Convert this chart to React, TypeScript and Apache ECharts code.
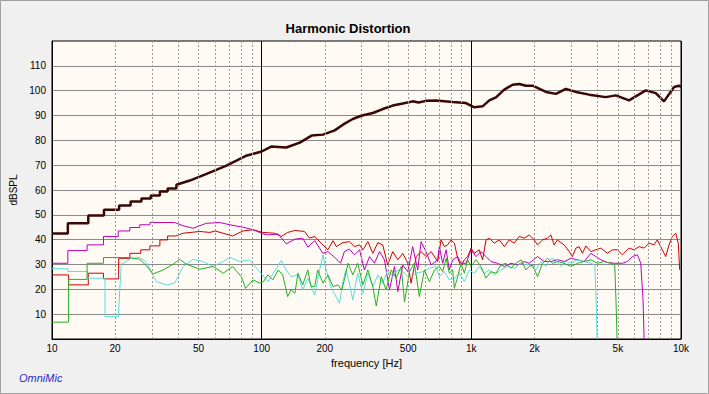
import React, { useEffect, useRef } from 'react';
import * as echarts from 'echarts';

// [frequency Hz, dBSPL]
const fundamental: [number, number][] = [
  [10, 42.5], [11.9, 42.5], [11.9, 46.6], [14.9, 46.6], [14.9, 49.7], [17.7, 49.7], [17.7, 52], [20.9, 52],
  [20.9, 53.8], [23.7, 53.8], [23.7, 55.4], [26.7, 55.4], [26.7, 56.6], [29.6, 56.6], [29.6, 57.8], [32.7, 57.8],
  [32.7, 59.4], [35.6, 59.4], [35.6, 60.6], [39.2, 60.6], [39.2, 62.1], [45.4, 63.8], [50.7, 65.4], [58.4, 67.5],
  [67.9, 69.8], [75.8, 71.8], [84.5, 73.8], [100, 75.5], [111, 77.5], [131, 77.1], [152, 79.1], [173, 81.9],
  [196, 82.3], [223, 84], [244, 86.3], [272, 88.6], [298, 89.9], [339, 91], [378, 92.6], [422, 94], [471, 94.8],
  [525, 95.7], [560, 95.2], [608, 95.9], [679, 96], [815, 95.4], [943, 95], [1033, 93.3], [1132, 93.7],
  [1218, 96.1], [1311, 97.3], [1436, 100.4], [1574, 102.4], [1693, 102.7], [1822, 102], [1960, 102],
  [2270, 99.5], [2532, 98.7], [2825, 100.7], [3152, 99.5], [3648, 98.4], [4377, 97.4], [4886, 98.1],
  [5653, 96.1], [6792, 100.1], [7580, 99], [8298, 95.7], [9268, 101.5], [9772, 102], [10000, 101.5],
];

const harmonicRed: [number, number][] = [
  [10, 25.8], [12, 25.8], [12, 21.8], [14.9, 21.8], [14.9, 26.5], [17.6, 26.5], [17.6, 24.2], [20.8, 24.2],
  [20.8, 32.5], [23.5, 32.5], [23.5, 34.5], [26.5, 34.5], [26.5, 35.9], [29.3, 35.9], [29.3, 37.5], [32.7, 37.5],
  [32.7, 39.9], [35.6, 39.9], [35.6, 41.5], [39, 41.5], [42.2, 42.6], [50.7, 43.3], [56.6, 42.9], [60, 43.5],
  [72.6, 41.5], [81.5, 43.5], [91, 44], [101.6, 42.9], [115, 42.6], [124, 41.3], [133, 42.9], [144, 43.7],
  [160, 43.3], [169, 40.6], [179, 41.3], [192, 38.6], [207, 35.9], [219, 39.6], [227, 37.2], [244, 38.8],
  [262, 39.2], [277, 37.2], [293, 37.9], [304, 35.9], [321, 39.2], [339, 34.5], [358, 38.8], [378, 37.9],
  [399, 29.8], [422, 35.2], [446, 31.9], [471, 34.5], [498, 30.5], [516, 22.5], [546, 33.2], [576, 35.2],
  [608, 33.2], [643, 35.2], [691, 31.2], [717, 39.9], [744, 37.2], [771, 37.9], [800, 39.9], [830, 38.6],
  [861, 32.5], [893, 29.2], [926, 31.9], [960, 33.2], [997, 36.6], [1033, 34.5], [1091, 35.9], [1132, 31.9],
  [1175, 39.9], [1218, 40.6], [1287, 38.6], [1360, 39.9], [1436, 37.2], [1517, 39.9], [1602, 38.6],
  [1693, 41.3], [1786, 40.6], [1888, 41.9], [1995, 39.9], [2069, 37.9], [2186, 39.9], [2308, 40.6],
  [2396, 41.9], [2483, 37.9], [2576, 39.9], [2673, 38.8], [2773, 37.9], [2929, 35.2], [3034, 33.2],
  [3152, 36.6], [3266, 37.2], [3388, 34.5], [3516, 37.5], [3715, 35.2], [3924, 35.9], [4146, 36.6],
  [4457, 34.5], [4707, 35.9], [4975, 35.9], [5255, 33.9], [5653, 36.6], [5970, 35.9], [6310, 37.2],
  [6668, 36.6], [7040, 38.6], [7436, 37.9], [7706, 39.9], [8147, 35.9], [8453, 33.2], [8770, 37.9],
  [9092, 41.3], [9437, 42.6], [9705, 38.6], [9857, 27.8],
];

const harmonicMagenta: [number, number][] = [
  [10, 30.5], [11.9, 30.5], [11.9, 35.6], [14.7, 35.6], [14.7, 37.9], [17.6, 37.9], [17.6, 41.3], [20.7, 41.3],
  [20.7, 43.5], [23.5, 43.5], [23.5, 44.9], [26.2, 44.9], [26.2, 46], [29.3, 46], [29.3, 46.9], [38.5, 46.9],
  [42.2, 45.6], [47.1, 44.6], [54.5, 46.6], [63.1, 46.9], [70.5, 46], [81.5, 45], [91, 44], [101.6, 42.3],
  [107, 41.9], [120, 42.3], [131, 38.3], [144, 40.2], [157, 40.6], [166, 37], [179, 39.6], [196, 34.5],
  [207, 35.2], [223, 32.9], [238, 30.5], [248, 35.2], [262, 36.2], [277, 33.9], [293, 35.9], [309, 27.8],
  [327, 33.2], [345, 30.5], [365, 35.2], [385, 31.9], [407, 19.8], [430, 29.2], [446, 19.1], [471, 29.8],
  [498, 27.1], [525, 37.2], [555, 27.8], [576, 39.2], [608, 35.2], [643, 29.8], [691, 31.9], [704, 37.2],
  [730, 30.5], [758, 35.9], [785, 27.8], [815, 31.9], [861, 33.2], [893, 30.5], [943, 30.5], [997, 35.9],
  [1052, 33.2], [1112, 35.2], [1175, 33.2], [1241, 31.2], [1334, 30.5], [1436, 29.2], [1545, 30.5],
  [1662, 29.8], [1786, 31.2], [1888, 30.5], [2069, 33.2], [2227, 31.2], [2396, 31.2], [2576, 31.9],
  [2773, 31.2], [2985, 32.5], [3208, 31.9], [3451, 31.2], [3715, 34.5], [3924, 33.2], [4146, 31.9],
  [4457, 30.8], [4797, 30.5], [5255, 30.5], [5546, 31.2], [5861, 33.2], [6194, 33.9], [6427, 30.5],
  [6592, 15.7], [6668, 0],
];

const harmonicGreen: [number, number][] = [
  [10, 6.8], [12, 6.8], [12, 24], [14.7, 24], [14.7, 30.5], [17.6, 30.5], [17.6, 32.8], [23.5, 32.8],
  [26.2, 32.1], [28.3, 29.4], [30.4, 26.2], [33.9, 27.8], [37.8, 30.1], [40.6, 32.1], [43.8, 30.1],
  [50.7, 28.1], [58.6, 29.2], [65.6, 26.5], [72.6, 29.2], [80, 25.1], [83.8, 20.4], [91, 23.8], [97.9, 22.5],
  [102, 23.1], [107, 25.8], [113, 23.8], [120, 27.8], [126, 25.8], [133, 17.1], [138, 19.8], [144, 18.4],
  [149, 26.5], [157, 21.8], [166, 27.8], [172, 21.1], [179, 21.1], [185, 27.8], [196, 22.5], [207, 25.8],
  [219, 21.1], [231, 21.8], [241, 19.8], [248, 23.8], [258, 30.5], [272, 25.8], [287, 30.5], [304, 21.8],
  [321, 27.8], [339, 21.1], [352, 13.3], [372, 25.1], [392, 19.8], [415, 27.8], [438, 24.5], [463, 29.2],
  [480, 15], [507, 27.1], [535, 30.5], [565, 17.1], [597, 27.8], [631, 23.1], [667, 27.8], [704, 29.2],
  [730, 27.1], [758, 32.5], [785, 26.5], [815, 27.8], [830, 20.4], [861, 25.1], [893, 30.5], [926, 26.5],
  [960, 31.9], [997, 29.2], [1052, 31.9], [1112, 29.2], [1175, 24.5], [1241, 27.1], [1311, 26.5],
  [1384, 29.8], [1463, 30.5], [1545, 28.5], [1633, 30.5], [1725, 31.9], [1822, 27.8], [1888, 29.2],
  [1959, 29.8], [2069, 25.1], [2186, 30.5], [2308, 32.5], [2438, 30.5], [2576, 31.2], [2773, 30.5],
  [2985, 29.2], [3208, 30.5], [3451, 31.2], [3715, 31.9], [3994, 30.5], [4296, 31.2], [4624, 30.5],
  [4831, 29.8], [4900, 15], [4955, 0],
];

const harmonicCyan: [number, number][] = [
  [10, 28.3], [11.9, 28.3], [11.9, 27.2], [14.8, 27.2], [14.8, 24.5], [17.9, 24.5], [17.9, 9], [20.7, 9],
  [21.4, 30.1], [23.5, 32.1], [26.2, 32.9], [28.3, 30.8], [29.3, 27.8], [31.5, 23.1], [35.2, 21.8],
  [38.5, 22.5], [42.2, 29.2], [47.1, 32.1], [52.5, 31.2], [58.6, 29.2], [65.6, 31.2], [70.5, 32.9],
  [78.6, 31.2], [87.6, 31.9], [97.9, 27.1], [107, 23.1], [115, 27.2], [124, 31.6], [131, 27.8], [138, 25.1],
  [149, 25.8], [157, 19.8], [166, 24.5], [179, 17.7], [189, 27.8], [196, 33.9], [203, 27.8], [215, 20.4],
  [227, 16.8], [235, 14.4], [244, 23.1], [252, 27.8], [262, 22.5], [272, 15.7], [287, 26.5], [304, 18.4],
  [321, 26.5], [339, 21.1], [358, 25.8], [378, 22.5], [399, 27.8], [422, 25.1], [446, 27.8], [471, 27.1],
  [507, 24.5], [546, 26.5], [586, 27.1], [631, 28.5], [679, 29.2], [704, 25.1], [744, 27.1], [785, 23.8],
  [830, 24.5], [877, 26.5], [926, 23.1], [978, 27.8], [1033, 26.5], [1091, 29.2], [1153, 26.5],
  [1218, 27.8], [1287, 25.8], [1384, 27.8], [1489, 29.2], [1602, 28.5], [1725, 30.5], [1888, 29.8],
  [2032, 27.8], [2148, 31.2], [2268, 29.2], [2396, 32.5], [2532, 31.9], [2673, 29.2], [2825, 31.2],
  [2985, 30.5], [3208, 31.9], [3451, 31.2], [3715, 30.5], [3882, 29.8], [3936, 15], [3981, 0],
];

const xTickValues = [10, 20, 50, 100, 200, 500, 1000, 2000, 5000, 10000];
const xTickLabels = ['10', '20', '50', '100', '200', '500', '1k', '2k', '5k', '10k'];
const minorGridFreqs = [
  20, 30, 40, 50, 60, 70, 80, 90,
  200, 300, 400, 500, 600, 700, 800, 900,
  2000, 3000, 4000, 5000, 6000, 7000, 8000, 9000,
];

const REG = "'Liberation Sans', Arial, sans-serif";

function lineSeries(name: string, data: [number, number][], color: string, width: number, extra: any = {}) {
  return {
    type: 'line',
    name,
    data,
    symbol: 'none',
    showSymbol: false,
    silent: true,
    lineStyle: { color, width },
    itemStyle: { color },
    ...extra,
  };
}

export default function App() {
  const ref = useRef<HTMLDivElement>(null);
  useEffect(() => {
    const chart = echarts.init(ref.current!, null, { renderer: 'svg' });
    const option: any = {
      animation: false,
      backgroundColor: '#f0f0f0',
      grid: {
        left: 52, right: 28, top: 41, bottom: 55,
        show: true, backgroundColor: '#fffaf3', borderColor: '#000', borderWidth: 1,
      },
      xAxis: {
        type: 'log', logBase: 10, min: 10, max: 10000,
        name: 'frequency [Hz]', nameLocation: 'middle', nameGap: 16,
        nameTextStyle: { fontFamily: REG, fontSize: 11, color: '#000' },
        axisLine: { show: true, lineStyle: { color: '#000', width: 1 } },
        axisTick: { show: false },
        axisLabel: {
          customValues: xTickValues,
          formatter: (v: number) => {
            const i = xTickValues.findIndex((t) => Math.abs(t - v) / t < 0.01);
            return i >= 0 ? xTickLabels[i] : '';
          },
          fontFamily: REG, fontSize: 10, color: '#000', margin: 4,
        },
        splitLine: { show: true, lineStyle: { color: '#000', width: 1 } },
      },
      yAxis: {
        type: 'value', min: 0, max: 120, interval: 10,
        name: 'dBSPL', nameLocation: 'middle', nameGap: 25,
        nameTextStyle: { fontFamily: REG, fontSize: 10, color: '#000' },
        axisLine: { show: true, lineStyle: { color: '#000', width: 1 } },
        axisTick: { show: false },
        axisLabel: {
          formatter: (v: number) => (v === 0 || v === 120 ? '' : String(v)),
          fontFamily: REG, fontSize: 10, color: '#000', margin: 6,
        },
        splitLine: { show: true, showMinLine: false, showMaxLine: false, lineStyle: { color: '#8a8a8a', width: 1 } },
      },
      graphic: [
        {
          type: 'rect', silent: true,
          shape: { x: 0.5, y: 0.5, width: 708, height: 393 },
          style: { fill: 'none', stroke: '#a0a0a0', lineWidth: 1 },
        },
        {
          type: 'text', x: 348, y: 28, silent: true,
          style: {
            text: 'Harmonic Distortion', align: 'center', verticalAlign: 'middle',
            fontFamily: REG, fontWeight: 'bold', fontSize: 13, fill: '#000',
          },
        },
        {
          type: 'text', x: 19, y: 378, silent: true,
          style: {
            text: 'OmniMic', align: 'left', verticalAlign: 'middle',
            fontFamily: REG, fontStyle: 'italic', fontSize: 11, fill: '#2a2ac8',
          },
        },
      ],
      series: [
        lineSeries('H2', harmonicRed, '#cc0000', 1, {
          markLine: {
            silent: true, symbol: 'none', animation: false,
            label: { show: false },
            lineStyle: { color: '#9a9a9a', type: [2, 2], width: 1 },
            data: minorGridFreqs.map((f) => ({ xAxis: f })),
          },
        }),
        lineSeries('H3', harmonicMagenta, '#bb00bb', 1),
        lineSeries('H4', harmonicCyan, '#55dede', 1),
        lineSeries('H5', harmonicGreen, '#22b022', 1),
        lineSeries('Fundamental', fundamental, '#3a0606', 2.5),
      ],
    };
    chart.setOption(option);
    return () => chart.dispose();
  }, []);
  return <div ref={ref} style={{ position: 'absolute', left: 0, top: 0, width: 709, height: 394 }} />;
}
